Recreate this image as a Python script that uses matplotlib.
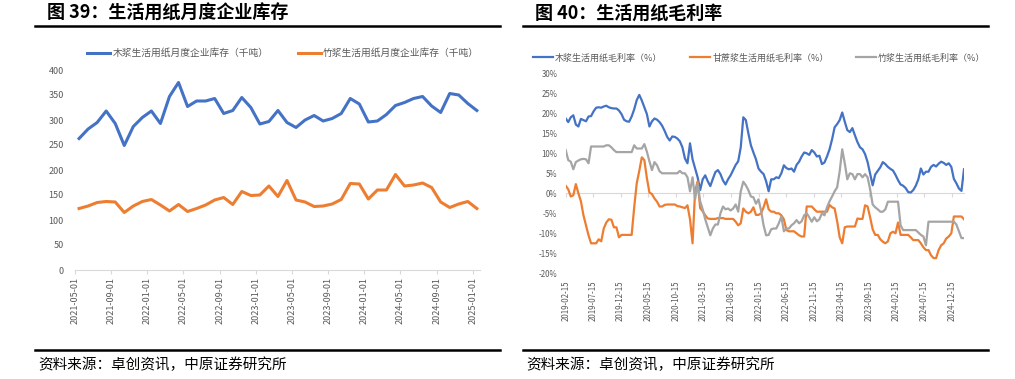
import numpy as np
import pandas as pd
import matplotlib
matplotlib.use('Agg')
import matplotlib.pyplot as plt
import matplotlib.dates as mdates
from matplotlib.lines import Line2D

plt.rcParams['font.family'] = ['Noto Sans CJK SC', 'DejaVu Sans']
plt.rcParams['axes.unicode_minus'] = False

# ---- 图39 数据（千吨），2021-05 到 2025-01 每月 ----
stock_wood = [263, 282, 295, 318, 293, 249, 287, 305, 318, 293,
              347, 375, 327, 338, 338, 343, 313, 319, 345, 325,
              292, 297, 319, 295, 285, 300, 309, 298, 303, 313,
              343, 332, 296, 298, 311, 329, 335, 343, 347, 328,
              315, 353, 350, 333, 319]
stock_bamboo = [123, 128, 135, 137, 136, 115, 128, 137, 141, 130,
                118, 131, 117, 123, 130, 140, 145, 131, 157, 149,
                150, 168, 147, 179, 140, 136, 127, 128, 132, 141,
                173, 172, 142, 160, 160, 191, 168, 170, 174, 165,
                136, 125, 132, 137, 123]
stock_ticks = ['2021-05-01', '2021-09-01', '2022-01-01', '2022-05-01',
               '2022-09-01', '2023-01-01', '2023-05-01', '2023-09-01',
               '2024-01-01', '2024-05-01', '2024-09-01', '2025-01-01']

# ---- 图40 数据（%），自2019-02-15起每两周 ----
margin_start = '2019-02-15'
margin_wood = [18.7, 17.8, 19.0, 19.5, 17.2, 16.7, 18.6, 18.3, 18.0, 19.2,
               19.3, 20.5, 21.4, 21.5, 21.4, 21.7, 21.9, 21.5, 21.3, 21.2,
               21.2, 20.7, 19.8, 18.4, 18.0, 17.9, 19.2, 21.0, 23.3, 24.6,
               23.2, 21.5, 19.8, 16.7, 18.0, 18.7, 18.4, 17.8, 16.9, 15.6,
               14.1, 13.2, 14.2, 14.1, 13.7, 13.0, 11.5, 8.7, 7.5, 12.5,
               8.5, 6.3, 4.0, 0.8, 3.5, 4.5, 3.0, 1.8, 3.6, 5.3,
               5.8, 4.8, 3.2, 2.2, 3.5, 4.5, 5.8, 7.1, 8.0, 11.5,
               19.0, 18.3, 15.0, 12.0, 10.2, 8.5, 6.2, 5.4, 4.8, 3.0,
               0.5, 3.5, 3.5, 4.0, 3.8, 5.0, 7.0, 6.3, 6.0, 6.2,
               5.4, 7.1, 7.9, 9.2, 10.2, 10.0, 9.6, 10.8, 10.2, 9.2,
               9.4, 7.3, 7.7, 9.2, 11.0, 13.5, 16.5, 17.3, 18.3, 20.2,
               17.9, 15.8, 15.3, 16.3, 14.5, 12.8, 11.5, 11.0, 9.8, 7.8,
               4.9, 2.0, 4.7, 5.6, 6.5, 7.8, 7.3, 6.6, 6.1, 5.7,
               4.6, 3.3, 2.2, 1.9, 1.3, 0.3, 0.2, 0.8, 1.9, 3.5,
               6.2, 4.7, 5.4, 5.4, 6.6, 7.1, 6.7, 7.4, 7.9, 7.6,
               7.1, 7.5, 6.6, 3.6, 2.5, 1.2, 0.6, 6.0]
margin_cane = [1.9, 1.0, -0.8, -0.5, 2.3, 0.0, -2.0, -5.5, -8.0, -10.5,
               -12.5, -12.5, -12.5, -11.5, -12.0, -8.8, -7.3, -6.5, -6.6, -8.5,
               -8.5, -11.0, -10.4, -10.4, -10.4, -10.4, -10.4, -3.5, 2.5, 5.6,
               9.0, 8.3, 3.8, 0.2, -0.2, -1.3, -2.1, -3.3, -3.3, -2.9,
               -2.8, -2.8, -2.8, -2.8, -3.2, -3.3, -3.5, -3.7, -3.0, -6.5,
               -12.5, 0.5, 3.0, -3.7, -4.5, -5.5, -6.3, -6.4, -6.4, -6.4,
               -6.2, -6.2, -6.2, -6.4, -6.4, -6.4, -6.4, -7.1, -8.0, -7.5,
               -3.8, -4.6, -5.0, -4.6, -3.5, -5.4, -5.4, -5.0, -3.5, -1.5,
               -4.0, -4.6, -4.6, -5.0, -5.0, -5.5, -6.5, -9.2, -9.5, -9.5,
               -9.5, -10.0, -10.5, -10.8, -10.8, -3.3, -3.3, -3.3, -4.0, -4.6,
               -4.6, -4.6, -4.6, -4.6, -2.9, -3.5, -3.8, -7.0, -11.0, -12.5,
               -8.5, -8.3, -8.3, -8.3, -8.3, -6.3, -6.4, -6.4, -3.0, -3.3,
               -6.0, -9.0, -10.4, -10.4, -11.5, -12.1, -12.5, -12.0, -10.0, -9.6,
               -10.0, -7.3, -10.4, -10.4, -10.4, -10.4, -11.0, -11.7, -11.7, -11.7,
               -12.5, -13.5, -14.2, -14.2, -15.5, -16.2, -16.2, -14.2, -13.0, -12.5,
               -11.3, -10.8, -10.0, -5.8, -5.8, -5.8, -5.8, -6.5]
margin_bamboo = [10.8, 8.3, 7.9, 6.0, 7.8, 8.2, 8.5, 8.6, 8.5, 7.5,
                 11.7, 11.7, 11.7, 11.7, 11.7, 11.7, 12.0, 12.0, 11.5, 10.8,
                 10.3, 10.3, 10.3, 10.3, 10.3, 10.3, 10.3, 12.0, 11.2, 11.2,
                 11.2, 12.3, 10.4, 8.0, 5.8, 7.8, 7.0, 5.5, 5.0, 5.0,
                 5.0, 5.0, 5.0, 5.0, 5.0, 5.6, 5.0, 5.0, 4.0, 0.5,
                 4.0, -1.5, 2.5, -2.0, -4.0, -6.5, -8.5, -10.5, -8.8, -7.8,
                 -7.8, -5.0, -3.3, -4.0, -3.8, -4.3, -3.8, -2.8, -4.6, 0.5,
                 2.9, 2.0, 0.8, -0.8, -1.0, -2.6, -1.5, -4.3, -8.0, -10.5,
                 -10.4, -9.0, -8.8, -8.8, -7.5, -5.8, -9.5, -8.8, -8.8, -8.0,
                 -7.5, -6.7, -7.5, -7.0, -5.5, -5.0, -6.0, -7.1, -6.0, -7.0,
                 -6.5, -5.0, -5.5, -3.5, -2.0, -0.8, 0.5, 1.5, 5.5, 11.0,
                 7.5, 3.5, 5.0, 4.8, 3.5, 4.8, 4.8, 4.0, 4.8, 4.0,
                 1.0, -2.8, -3.5, -4.0, -4.6, -4.6, -4.0, -2.1, -2.1, -2.1,
                 -2.1, -2.1, -8.0, -9.2, -9.2, -9.2, -9.2, -9.2, -9.2, -9.8,
                 -10.4, -10.8, -13.0, -7.1, -7.1, -7.1, -7.1, -7.1, -7.1, -7.1,
                 -7.1, -7.1, -7.1, -7.1, -7.8, -9.5, -11.2, -11.2]
margin_ticks = ['2019-02-15', '2019-07-15', '2019-12-15', '2020-05-15',
                '2020-10-15', '2021-03-15', '2021-08-15', '2022-01-15',
                '2022-06-15', '2022-11-15', '2023-04-15', '2023-09-15',
                '2024-02-15', '2024-07-15', '2024-12-15']

BLUE, ORANGE, GRAY = '#4472C4', '#ED7D31', '#A5A5A5'
TXT = '#595959'
AXC = '#D9D9D9'

W, H = 1015, 379
fig = plt.figure(figsize=(W / 100, H / 100), dpi=100)


def fx(px):
    return px / W


def fy(py):
    return 1 - py / H


# 标题、横线、资料来源
for x0, x1, title in [(35, 500, '图 39：生活用纸月度企业库存'),
                      (523, 988, '图 40：生活用纸毛利率')]:
    fig.text(fx(x0 + 12), fy(13), title, fontsize=13, fontweight='bold',
             ha='left', va='center')
    fig.add_artist(Line2D([fx(x0), fx(x1)], [fy(26), fy(26)], color='black', lw=1.8))
    fig.add_artist(Line2D([fx(x0), fx(x1)], [fy(350), fy(350)], color='black', lw=1.8))
    fig.text(fx(x0 + 3), fy(365), '资料来源：卓创资讯，中原证券研究所', fontsize=10.5,
             ha='left', va='center')

# ---- 左图 ----
ax1 = fig.add_axes([fx(75), fy(270), (480 - 75) / W, 200 / H])
x = np.arange(len(stock_wood))
ax1.plot(x, stock_wood, color=BLUE, lw=2.2, label='木浆生活用纸月度企业库存（千吨）')
ax1.plot(x, stock_bamboo, color=ORANGE, lw=2.2, label='竹浆生活用纸月度企业库存（千吨）')
ax1.set_xlim(-0.44, 44.35)
ax1.set_ylim(0, 400)
ax1.set_yticks(range(0, 401, 50))
ax1.set_xticks(np.arange(0, len(stock_wood), 4) - 0.45)
ax1.set_xticklabels(stock_ticks, rotation=90)
for s in ['top', 'right', 'left']:
    ax1.spines[s].set_visible(False)
ax1.spines['bottom'].set_color(AXC)
ax1.tick_params(axis='x', length=3, color=AXC, labelsize=6.5, labelcolor=TXT, pad=2)
ax1.tick_params(axis='y', length=0, labelsize=6.5, labelcolor=TXT, pad=8)
ax1.legend(loc='center', bbox_to_anchor=(fx(283), fy(53)), bbox_transform=fig.transFigure,
           ncol=2, frameon=False, fontsize=7, labelcolor=TXT, handlelength=2.4,
           handletextpad=0.2, columnspacing=3.0)

# ---- 右图 ----
ax2 = fig.add_axes([fx(565.7), fy(273.3), (964 - 565.7) / W, 200 / H])
d = mdates.date2num(pd.date_range(margin_start, periods=len(margin_wood), freq='14D'))
ax2.plot(d, margin_wood, color=BLUE, lw=1.6, label='木浆生活用纸毛利率（%）')
ax2.plot(d, margin_cane, color=ORANGE, lw=1.6, label='甘蔗浆生活用纸毛利率（%）')
ax2.plot(d, margin_bamboo, color=GRAY, lw=1.6, label='竹浆生活用纸毛利率（%）')
ax2.set_xlim(d[0], d[-1])
ax2.set_ylim(-20, 30)
ax2.set_yticks(range(-20, 31, 5))
ax2.set_yticklabels([f'{v}%' for v in range(-20, 31, 5)])
tk = mdates.date2num(pd.to_datetime(margin_ticks))
ax2.set_xticks(tk)
ax2.set_xticklabels(margin_ticks, rotation=90)
for s in ax2.spines.values():
    s.set_visible(False)
ax2.tick_params(axis='x', length=0, labelsize=5.7, labelcolor=TXT, pad=5)
ax2.tick_params(axis='y', length=0, labelsize=5.7, labelcolor=TXT, pad=6)
zero = ax2.secondary_xaxis(0.4)
zero.set_xticks(tk)
zero.set_xticklabels([])
zero.spines['bottom'].set_color(AXC)
zero.tick_params(axis='x', length=3, color=AXC)
ax2.legend(loc='center', bbox_to_anchor=(fx(759), fy(58)), bbox_transform=fig.transFigure,
           ncol=3, frameon=False, fontsize=6.5, labelcolor=TXT, handlelength=2.3,
           handletextpad=0.2, columnspacing=3.0)

fig.savefig('out.png', dpi=100)
